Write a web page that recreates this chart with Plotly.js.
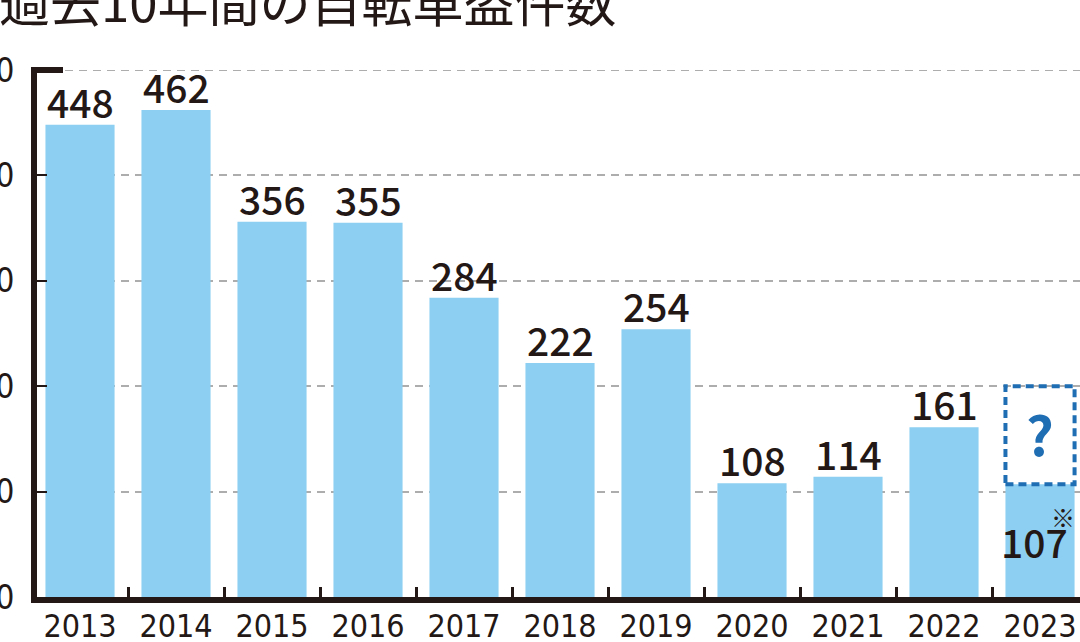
<!DOCTYPE html>
<html>
<head>
<meta charset="utf-8">
<script src="https://cdn.plot.ly/plotly-3.0.1.min.js"></script>
<style>
  html, body { margin: 0; padding: 0; background: #fff; }
  #chart { width: 1080px; height: 642px; }
</style>
</head>
<body>
<div id="chart"></div>
<script>
/* 過去10年間の自転車盗件数 — bar chart */

const years = ['2013', '2014', '2015', '2016', '2017', '2018', '2019', '2020', '2021', '2022', '2023'];
const thefts = [448, 462, 356, 355, 284, 222, 254, 108, 114, 161, 107];
const yTicks = [0, 100, 200, 300, 400, 500];
const pendingTop = 200;   // top of the dashed "?" box over the provisional 2023 bar

const INK = '#231815';
const BAR = '#8dcff2';
const BLUE = '#1f6db3';
const NARROW = '"DejaVu Sans Condensed", "Noto Sans", sans-serif';
const CJK = '"Noto Sans CJK JP", "Noto Sans", sans-serif';

const last = years.length - 1;
const barWidth = 0.72;
const M = { l: 37, r: 0, t: 70, b: 45 };
const plotW = 1080 - M.l - M.r;
const plotH = 642 - M.t - M.b;
const valueFont = { family: CJK, size: 39, color: INK, weight: 500 };

const barTrace = {
  type: 'bar',
  x: years,
  y: thefts,
  width: barWidth,
  marker: { color: BAR, line: { width: 0 } },
  hoverinfo: 'skip',
};

// value labels: above the bar, except the provisional last year (inside)
const valueNotes = thefts.map((v, i) => (i < last ? {
  text: String(v), xref: 'x', yref: 'y', x: i, y: v,
  xanchor: 'center', yanchor: 'bottom', yshift: -6,
  showarrow: false, font: valueFont,
} : {
  text: String(v), xref: 'x', yref: 'y', x: i, y: v / 2,
  xshift: -6, yshift: 0, showarrow: false, font: valueFont,
}));

const layout = {
  width: 1080,
  height: 642,
  margin: M,
  paper_bgcolor: '#fff',
  plot_bgcolor: '#fff',
  showlegend: false,
  xaxis: {
    type: 'category',
    range: [-0.448, -0.448 + plotW / 96],
    showline: true,
    linewidth: 6,
    linecolor: INK,
    ticks: 'inside',
    tickson: 'boundaries',
    ticklen: 10,
    tickwidth: 3,
    tickcolor: INK,
    ticklabelstandoff: -4,
    tickfont: { family: NARROW, size: 32, color: INK },
    showgrid: false,
    zeroline: false,
    fixedrange: true,
  },
  yaxis: {
    range: [0, 500],
    tickvals: yTicks,
    ticktext: yTicks.map(String),
    showline: true,
    linewidth: 6,
    linecolor: INK,
    ticks: 'inside',
    ticklen: 10,
    tickwidth: 2,
    tickcolor: INK,
    ticklabelstandoff: 10,
    tickfont: { family: NARROW, size: 33, color: INK },
    showgrid: true,
    gridcolor: '#adadad',
    gridwidth: 2,
    griddash: '8px,6px',
    zeroline: false,
    fixedrange: true,
  },
  shapes: [
    // top gridline (Plotly drops the one on the plot edge)
    {
      type: 'line', xref: 'paper', yref: 'y', layer: 'below',
      x0: 28 / plotW, x1: 1, y0: yTicks[yTicks.length - 1], y1: yTicks[yTicks.length - 1],
      line: { color: '#adadad', width: 2, dash: '8px,6px' },
    },
    // short hook at the top of the y axis
    {
      type: 'line', xref: 'paper', yref: 'paper',
      x0: -6 / plotW, x1: 26 / plotW, y0: 1, y1: 1,
      line: { color: INK, width: 6 },
    },
    // dashed box: 2023 still open
    {
      type: 'rect', xref: 'x', yref: 'y',
      x0: last - barWidth / 2, x1: last + barWidth / 2,
      y0: thefts[last], y1: pendingTop,
      line: { color: BLUE, width: 4, dash: '8px,5px' },
      fillcolor: 'rgba(0,0,0,0)',
    },
  ],
  annotations: [
    {
      text: '過去10年間の自転車盗件数',
      xref: 'paper', yref: 'paper',
      x: (-3 - M.l) / plotW, y: 1 + 70 / plotH,
      xanchor: 'left', yanchor: 'middle',
      showarrow: false,
      font: { family: CJK, size: 51, color: INK },
    },
    ...valueNotes,
    {
      text: '※',
      xref: 'x', yref: 'y',
      x: last, y: thefts[last],
      xshift: 23, yshift: -32,
      showarrow: false,
      font: { family: CJK, size: 24, color: INK },
    },
    {
      text: '?',
      xref: 'x', yref: 'y',
      x: last, y: (thefts[last] + pendingTop) / 2,
      yshift: 3,
      showarrow: false,
      font: { family: CJK, size: 54, color: BLUE, weight: 700 },
    },
  ],
};

Plotly.newPlot('chart', [barTrace], layout, { displayModeBar: false, staticPlot: true });
</script>
</body>
</html>
